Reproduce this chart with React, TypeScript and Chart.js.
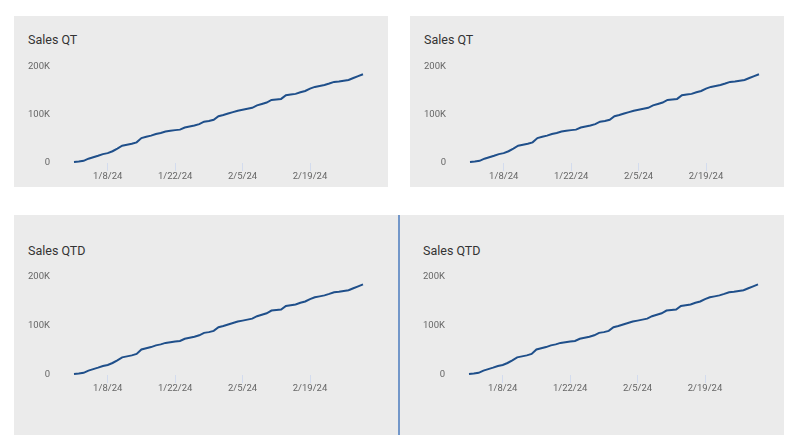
import React, { useEffect, useRef } from "react";
import { Chart, registerables } from "chart.js";

Chart.register(...registerables);

const dates: string[] = [
  "1/1/24", "1/2/24", "1/3/24", "1/4/24", "1/5/24", "1/6/24", "1/7/24", "1/8/24", "1/9/24", "1/10/24",
  "1/11/24", "1/12/24", "1/13/24", "1/14/24", "1/15/24", "1/16/24", "1/17/24", "1/18/24", "1/19/24", "1/20/24",
  "1/21/24", "1/22/24", "1/23/24", "1/24/24", "1/25/24", "1/26/24", "1/27/24", "1/28/24", "1/29/24", "1/30/24",
  "1/31/24", "2/1/24", "2/2/24", "2/3/24", "2/4/24", "2/5/24", "2/6/24", "2/7/24", "2/8/24", "2/9/24",
  "2/10/24", "2/11/24", "2/12/24", "2/13/24", "2/14/24", "2/15/24", "2/16/24", "2/17/24", "2/18/24", "2/19/24",
  "2/20/24", "2/21/24", "2/22/24", "2/23/24", "2/24/24", "2/25/24", "2/26/24", "2/27/24", "2/28/24", "2/29/24",
  "3/1/24",
];

const salesValues: number[] = [
  2000, 3000, 4500, 9000, 12000, 15000, 18500, 20500, 24500, 30000,
  36000, 38000, 40000, 43000, 52000, 54500, 57000, 60500, 62500, 65500,
  67000, 68500, 69500, 74000, 76000, 78000, 81000, 86000, 87500, 90000,
  97500, 100000, 103000, 106000, 109000, 111000, 113000, 115000, 120000, 123000,
  126000, 131500, 132500, 133500, 141000, 142500, 144000, 147500, 150000, 155000,
  158500, 160500, 162500, 165500, 169000, 170000, 171500, 173000, 177000, 181000,
  185000,
];

const xTickLabels: string[] = ["1/8/24", "1/22/24", "2/5/24", "2/19/24"];
const yTickValues: number[] = [0, 100000, 200000];
const yTickLabels: string[] = ["0", "100K", "200K"];

const panelTitles: string[] = ["Sales QT", "Sales QT", "Sales QTD", "Sales QTD"];

const FONT = "Roboto, 'Noto Sans', sans-serif";

function MiniChart({ plotHeight }: { plotHeight: number }) {
  const ref = useRef<HTMLCanvasElement | null>(null);
  useEffect(() => {
    if (!ref.current) return;
    const chart = new Chart(ref.current, {
      type: "line",
      data: {
        labels: dates,
        datasets: [
          {
            data: salesValues,
            borderColor: "#1f4f8a",
            borderWidth: 2,
            pointRadius: 0,
            tension: 0,
            fill: false,
          },
        ],
      },
      options: {
        animation: false,
        responsive: false,
        maintainAspectRatio: false,
        devicePixelRatio: 1,
        layout: { padding: { left: 0, right: 25, top: 50, bottom: 0 } },
        plugins: { legend: { display: false }, tooltip: { enabled: false }, title: { display: false } },
        scales: {
          x: {
            type: "category",
            offset: false,
            border: { display: false },
            grid: {
              display: true,
              drawOnChartArea: false,
              drawTicks: true,
              tickLength: 8,
              color: "#d3dcee",
              lineWidth: 1,
            },
            ticks: {
              autoSkip: false,
              maxRotation: 0,
              padding: 0,
              color: "#666666",
              font: { family: FONT, size: 9.5 },
            },
            afterBuildTicks: (scale: any) => {
              scale.ticks = scale.ticks.filter((t: any) =>
                xTickLabels.includes(dates[t.value])
              );
            },
            afterFit: (scale: any) => {
              scale.height = 25;
            },
          },
          y: {
            min: 0,
            max: 200000,
            border: { display: false },
            grid: { display: false },
            afterBuildTicks: (scale: any) => {
              scale.ticks = yTickValues.map((v) => ({ value: v }));
            },
            ticks: {
              padding: 16,
              color: "#666666",
              font: { family: FONT, size: 9.5 },
              callback: (v: any) => {
                const i = yTickValues.indexOf(Number(v));
                return i >= 0 ? yTickLabels[i] : "";
              },
            },
            afterFit: (scale: any) => {
              scale.width = 60;
            },
          },
        },
      },
    });
    return () => chart.destroy();
  }, [plotHeight]);
  return (
    <canvas
      ref={ref}
      width={374}
      height={50 + plotHeight + 25}
      style={{ position: "absolute", left: 0, top: 0, width: 374, height: 50 + plotHeight + 25 }}
    />
  );
}

type PanelDef = {
  bgLeft: number; bgTop: number; bgW: number; bgH: number;
  cx: number; cy: number; titleTop: number; plotH: number;
};

const panels: PanelDef[] = [
  { bgLeft: 14, bgTop: 16, bgW: 374, bgH: 171, cx: 14, cy: 17, titleTop: 15, plotH: 96 },
  { bgLeft: 410, bgTop: 16, bgW: 374, bgH: 171, cx: 410, cy: 17, titleTop: 15, plotH: 96 },
  { bgLeft: 14, bgTop: 215, bgW: 384, bgH: 220, cx: 14, cy: 227, titleTop: 16, plotH: 98 },
  { bgLeft: 400, bgTop: 215, bgW: 384, bgH: 220, cx: 409, cy: 227, titleTop: 16, plotH: 98 },
];

export default function App() {
  return (
    <div style={{ position: "absolute", left: 0, top: 0, width: 802, height: 447, background: "#ffffff", overflow: "hidden" }}>
      {panels.map((p, i) => (
        <div
          key={"bg" + i}
          style={{ position: "absolute", left: p.bgLeft, top: p.bgTop, width: p.bgW, height: p.bgH, background: "#ebebeb" }}
        />
      ))}
      <div style={{ position: "absolute", left: 398, top: 215, width: 2, height: 220, background: "#7397c9" }} />
      {panels.map((p, i) => (
        <div key={"c" + i} style={{ position: "absolute", left: p.cx, top: p.cy, width: 374, height: 50 + p.plotH + 25 }}>
          <div
            style={{
              position: "absolute",
              left: 14,
              top: p.titleTop,
              fontFamily: FONT,
              fontSize: 12.5,
              lineHeight: "16px",
              color: "#333333",
              whiteSpace: "nowrap",
            }}
          >
            {panelTitles[i]}
          </div>
          <MiniChart plotHeight={p.plotH} />
        </div>
      ))}
    </div>
  );
}
